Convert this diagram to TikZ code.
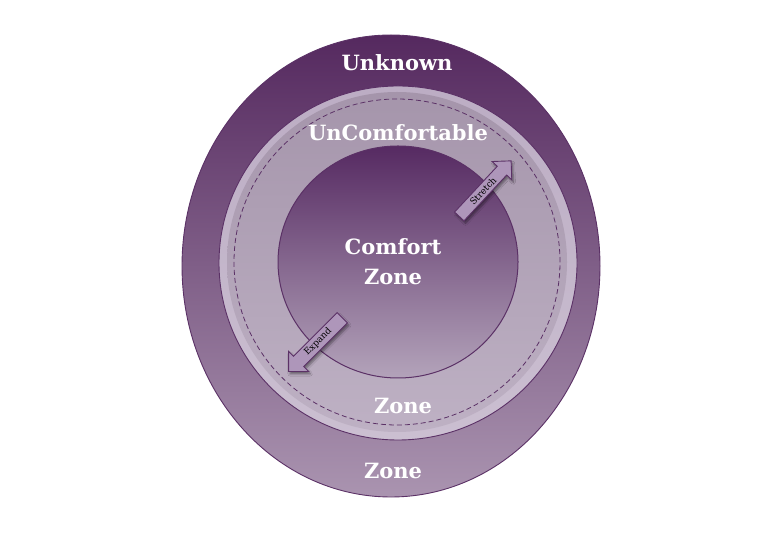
\documentclass[tikz,border=0pt]{standalone}
\usepackage{fontspec}
\setmainfont{DejaVu Serif}
\usetikzlibrary{shapes.arrows,shadows.blur}
\definecolor{ringdark}{HTML}{55295F}
\definecolor{ringlight}{HTML}{AA94B0}
\definecolor{rimtop}{HTML}{BCADC4}
\definecolor{rimbot}{HTML}{CBBFD1}
\definecolor{bandtop}{HTML}{A595AB}
\definecolor{bandbot}{HTML}{BEB1C4}
\definecolor{coretop}{HTML}{562A62}
\definecolor{corebot}{HTML}{B3A3BA}
\definecolor{edge}{HTML}{5B3166}
\definecolor{arrowfill}{HTML}{AE96BA}
\tikzset{
  lbl/.style={text=white,font=\bfseries\fontsize{21}{30}\selectfont,align=center},
  zonearrow/.style={single arrow,draw=edge,fill=arrowfill,line width=0.9pt,
    minimum height=76pt,inner xsep=2pt,inner ysep=2.5pt,single arrow head extend=7pt,
    single arrow head indent=0pt,font=\fontsize{9}{10}\selectfont,text=black,
    blur shadow={shadow xshift=1.5pt,shadow yshift=-2.5pt,shadow blur steps=6,shadow opacity=45}},
}
\begin{document}
\begin{tikzpicture}[x=1pt,y=1pt]
\useasboundingbox (0,0) rectangle (783,532);
\fill[white] (0,0) rectangle (783,532);
% outer ring
\shade[top color=ringdark,bottom color=ringlight,draw=edge,line width=0.9pt]
  (391,266) ellipse (209 and 231);
% middle ring
\shade[top color=rimtop,bottom color=rimbot,draw=edge,line width=0.9pt]
  (398,269) ellipse (179 and 177);
\shade[top color=bandtop,bottom color=bandbot]
  (397,270) circle (170);
\draw[edge,dashed,dash pattern=on 5pt off 3pt,line width=0.8pt] (397,270) circle (163);
% inner core
\shade[top color=coretop,bottom color=corebot,draw=edge,line width=1pt]
  (398,270) ellipse (120 and 116);
% labels
\node[lbl] (unknown) at (397,469) {Unknown};
\node[lbl] (uncomf) at (398,399) {UnComfortable};
\node[lbl] (comfort) at (393,270) {Comfort\\Zone};
\node[lbl] (zone2) at (403,126) {Zone};
\node[lbl] (zone1) at (393,61) {Zone};
% arrows
\node[zonearrow,rotate=47] (stretch) at (483,341) {Stretch};
\node[zonearrow,shape border rotate=180,rotate=45] (expand) at (318,190) {Expand};
\end{tikzpicture}
\end{document}
